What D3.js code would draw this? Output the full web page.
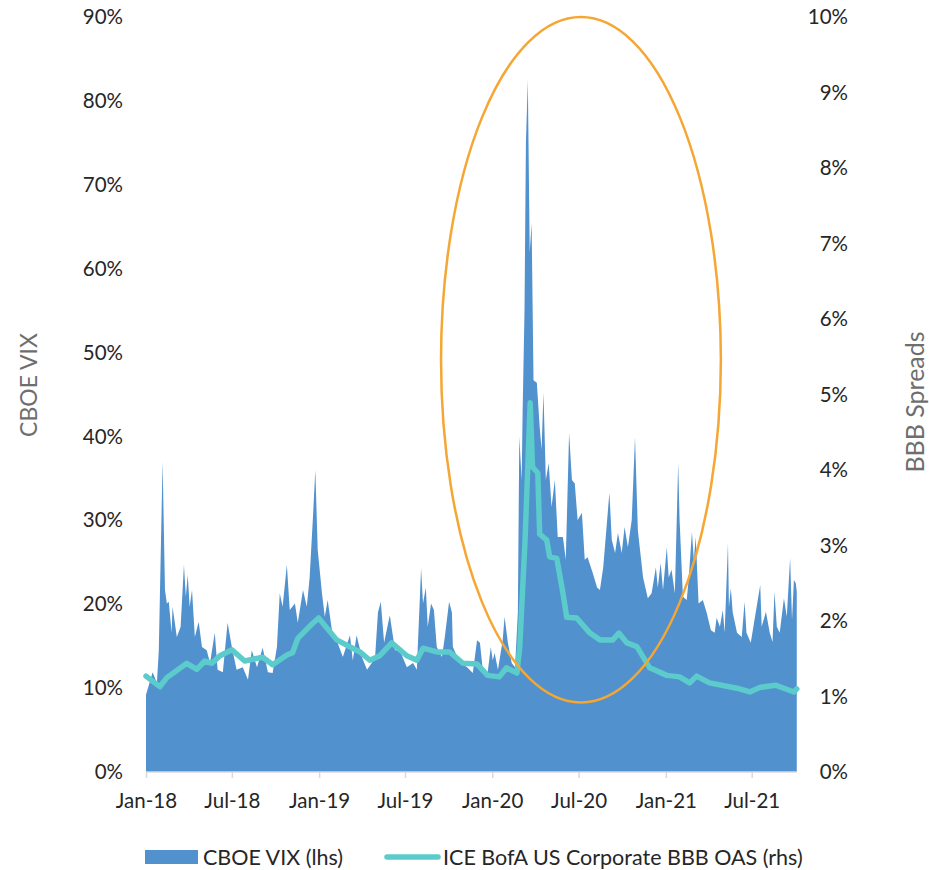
<!DOCTYPE html>
<html>
<head>
<meta charset="utf-8">
<script src="https://cdn.jsdelivr.net/npm/d3@7"></script>
<style>
  html, body { margin: 0; padding: 0; background: #fff; }
  svg text { font-family: Lato, "Open Sans", sans-serif; }
</style>
</head>
<body>
<svg id="chart" width="929" height="870"></svg>
<script>
// ---- Data ----
const vixDates = [
 "2018-01-01","2018-01-15","2018-01-24","2018-01-28","2018-02-05","2018-02-10","2018-02-14","2018-02-18","2018-02-24","2018-02-26",
 "2018-03-07","2018-03-15","2018-03-22","2018-03-26","2018-03-30","2018-04-03","2018-04-08","2018-04-14","2018-04-22","2018-04-29",
 "2018-05-09","2018-05-16","2018-05-26","2018-06-01","2018-06-12","2018-06-22","2018-07-01","2018-07-11","2018-07-24","2018-08-04",
 "2018-08-12","2018-08-23","2018-09-04","2018-09-15","2018-09-25","2018-10-04","2018-10-10","2018-10-16","2018-10-25","2018-10-31",
 "2018-11-11","2018-11-17","2018-11-28","2018-12-06","2018-12-12","2018-12-19","2018-12-24","2018-12-29",
 "2019-01-07","2019-01-13","2019-01-19","2019-01-28","2019-02-07","2019-02-20","2019-03-07","2019-03-13","2019-03-21","2019-04-01",
 "2019-04-12","2019-04-22","2019-04-29","2019-05-05","2019-05-11","2019-05-18","2019-05-30","2019-06-10","2019-06-20","2019-07-05",
 "2019-07-18","2019-07-26","2019-07-28","2019-08-04","2019-08-08","2019-08-14","2019-08-18","2019-08-25","2019-08-31","2019-09-06",
 "2019-09-17","2019-09-23","2019-10-02","2019-10-08","2019-10-10","2019-10-25","2019-11-09","2019-11-21","2019-11-30","2019-12-06",
 "2019-12-12","2019-12-21","2019-12-29",
 "2020-01-02","2020-01-06","2020-01-13","2020-01-23","2020-01-27","2020-02-03","2020-02-11","2020-02-18","2020-02-24","2020-02-27",
 "2020-03-03","2020-03-05","2020-03-09","2020-03-12","2020-03-16","2020-03-20","2020-03-24","2020-03-28","2020-04-04","2020-04-10",
 "2020-04-14","2020-04-18","2020-04-23","2020-04-29","2020-05-05","2020-05-12","2020-05-18","2020-05-29","2020-06-04","2020-06-11",
 "2020-06-17","2020-06-23","2020-06-29","2020-07-08","2020-07-14","2020-07-20","2020-07-31","2020-08-09","2020-08-15","2020-08-22",
 "2020-09-04","2020-09-09","2020-09-16","2020-09-22","2020-09-30","2020-10-06","2020-10-13","2020-10-21","2020-10-28","2020-11-03",
 "2020-11-14","2020-11-24","2020-12-02","2020-12-11","2020-12-15","2020-12-21","2020-12-26",
 "2021-01-03","2021-01-07","2021-01-13","2021-01-20","2021-01-27","2021-01-30","2021-02-06","2021-02-14","2021-02-18","2021-02-25",
 "2021-03-01","2021-03-05","2021-03-11","2021-03-20","2021-03-28","2021-04-06","2021-04-14","2021-04-18","2021-04-25","2021-05-01",
 "2021-05-05","2021-05-12","2021-05-14","2021-05-18","2021-05-22","2021-05-31","2021-06-10","2021-06-16","2021-06-20","2021-06-29",
 "2021-07-08","2021-07-19","2021-07-22","2021-07-31","2021-08-08","2021-08-14","2021-08-18","2021-08-23","2021-08-29","2021-09-07",
 "2021-09-13","2021-09-20","2021-09-24","2021-09-28","2021-10-02","2021-10-04"
];
const vixValues = [
 9.2,11.9,10.6,14.5,37.0,21.7,20.1,20.3,16.6,19.7,
 16.1,17.3,24.7,20.9,23.5,19.7,21.7,16.1,17.9,14.9,
 14.5,13.0,16.6,12.2,11.9,17.8,14.9,12.2,12.5,11.0,
 14.5,12.5,14.8,11.9,11.8,14.9,21.3,19.7,24.7,19.3,
 20.1,17.8,21.7,19.7,23.2,30.4,36.0,26.5,
 21.3,18.5,20.5,16.9,15.7,13.7,16.3,13.3,16.3,13.7,
 12.2,13.0,13.7,19.0,20.3,15.4,18.7,14.5,14.5,12.5,
 13.0,12.2,14.9,24.3,20.1,22.0,17.3,20.1,19.3,14.9,
 13.7,16.1,20.3,19.0,14.9,13.0,12.5,11.8,15.7,15.4,
 12.2,11.3,14.9,
 13.3,14.2,12.2,15.7,18.5,15.4,13.0,12.5,19.0,40.0,
 34.8,42.8,55.0,75.0,82.5,61.9,65.4,46.7,46.4,41.1,
 38.4,45.2,34.8,36.8,31.6,34.8,28.0,28.0,25.3,40.4,
 34.8,34.4,30.0,30.9,25.3,25.6,23.7,22.0,21.7,24.4,
 33.3,27.7,26.1,28.5,26.1,29.2,26.8,30.0,39.9,28.8,
 23.2,20.7,21.3,24.4,22.0,24.9,21.7,
 26.8,23.2,24.1,21.3,36.8,30.0,20.9,20.5,22.9,28.6,
 25.3,28.0,20.1,20.5,19.0,16.9,16.6,18.4,17.3,19.3,
 16.6,27.3,19.7,21.9,19.0,16.6,16.1,20.3,16.6,15.4,
 18.5,22.3,17.3,19.1,16.6,15.5,21.5,17.3,16.6,20.7,
 18.5,25.5,18.1,22.9,22.5,21.5
];
const bbbDates = [
 "2018-01-01","2018-01-30","2018-02-14","2018-03-28","2018-04-18","2018-05-05","2018-05-20","2018-06-06","2018-07-01","2018-07-28",
 "2018-09-04","2018-09-25","2018-10-25","2018-11-06","2018-11-17","2018-12-17","2018-12-31",
 "2019-02-07","2019-03-28","2019-04-18","2019-05-09","2019-06-03","2019-07-05","2019-07-26","2019-08-08","2019-09-06","2019-10-03",
 "2019-10-31","2019-11-30","2019-12-22",
 "2020-01-16","2020-01-31","2020-02-22","2020-02-28","2020-03-10","2020-03-21","2020-03-26","2020-04-06","2020-04-10","2020-04-25",
 "2020-05-01","2020-05-16","2020-05-29","2020-06-06","2020-06-27","2020-07-25","2020-08-15","2020-09-11","2020-09-24","2020-10-11",
 "2020-11-01","2020-11-28",
 "2021-01-03","2021-01-30","2021-02-20","2021-03-07","2021-04-03","2021-05-31","2021-06-27","2021-07-18","2021-08-20","2021-09-28",
 "2021-10-04"
];
const bbbValues = [
 1.27,1.13,1.25,1.44,1.36,1.47,1.44,1.54,1.62,1.47,
 1.52,1.42,1.55,1.58,1.77,1.96,2.04,
 1.75,1.59,1.48,1.54,1.71,1.54,1.48,1.64,1.59,1.59,
 1.44,1.43,1.28,
 1.26,1.38,1.31,1.66,3.05,4.89,4.04,3.96,3.15,3.07,
 2.85,2.83,2.37,2.05,2.04,1.84,1.75,1.75,1.84,1.71,
 1.66,1.38,
 1.28,1.26,1.18,1.27,1.18,1.11,1.06,1.12,1.15,1.06,
 1.10
];
const xTickDates = ["2018-01-01","2018-07-01","2019-01-01","2019-07-01","2020-01-01","2020-07-01","2021-01-01","2021-07-01"];
const leftTicks = [0,10,20,30,40,50,60,70,80,90];
const rightTicks = [0,1,2,3,4,5,6,7,8,9,10];
const seriesNames = ["CBOE VIX (lhs)", "ICE BofA US Corporate BBB OAS (rhs)"];
const axisTitles = ["CBOE VIX", "BBB Spreads"];
const highlightWindow = ["2019-09-15", "2021-04-27"]; // horizontal extent of the orange ellipse

// ---- Setup ----
const parse = d3.timeParse("%Y-%m-%d");
const vix = vixDates.map((d, i) => ({ date: parse(d), v: vixValues[i] }));
const bbb = bbbDates.map((d, i) => ({ date: parse(d), v: bbbValues[i] }));

const svg = d3.select("#chart");
const plot = { left: 146, right: 751.7, top: 17, bottom: 772 };
const FONT = "Lato, sans-serif";

const x = d3.scaleTime()
  .domain([parse("2018-01-01"), parse("2021-07-01")])
  .range([plot.left, plot.right]);
const yL = d3.scaleLinear().domain([0, 90]).range([plot.bottom, plot.top]);
const yR = d3.scaleLinear().domain([0, 10]).range([plot.bottom, plot.top]);

// Area
const area = d3.area()
  .x(d => x(d.date)).y0(yL(0)).y1(d => yL(d.v))
  .curve(d3.curveLinear);
svg.append("path").datum(vix)
  .attr("d", area)
  .attr("fill", "#5191CD");

// X axis
const xAxis = d3.axisBottom(x)
  .tickValues(xTickDates.map(parse))
  .tickFormat(d3.timeFormat("%b-%y"))
  .tickSize(6).tickSizeOuter(0).tickPadding(15);
const gx = svg.append("g").attr("transform", `translate(0,${plot.bottom})`).call(xAxis);
gx.select(".domain").attr("stroke", "#d9d9d9").attr("stroke-width", 1.5)
  .attr("d", `M${plot.left},0H${x(vix[vix.length-1].date)}`);
gx.selectAll(".tick line").attr("stroke", "#d9d9d9").attr("stroke-width", 1.5);
gx.selectAll(".tick text").attr("font-size", 20.5).attr("fill", "#262626")
  .style("font-family", FONT);

// Left axis
const gl = svg.append("g").attr("transform", `translate(${plot.left},0)`)
  .call(d3.axisLeft(yL).tickValues(leftTicks).tickFormat(d => d + "%").tickSize(0).tickPadding(23));
gl.select(".domain").remove();
gl.selectAll(".tick text").attr("font-size", 20.5).attr("fill", "#262626").style("font-family", FONT);

// Right axis (labels right-aligned at x≈848)
const gr = svg.append("g").attr("transform", `translate(848,0)`)
  .call(d3.axisRight(yR).tickValues(rightTicks).tickFormat(d => d + "%").tickSize(0).tickPadding(0));
gr.select(".domain").remove();
gr.selectAll(".tick text").attr("text-anchor", "end").attr("x", 0)
  .attr("font-size", 20.5).attr("fill", "#262626").style("font-family", FONT);

// BBB line
const line = d3.line().x(d => x(d.date)).y(d => yR(d.v)).curve(d3.curveLinear);
svg.append("path").datum(bbb)
  .attr("d", line)
  .attr("fill", "none")
  .attr("stroke", "#5BCBCB")
  .attr("stroke-width", 5.5)
  .attr("stroke-linejoin", "round")
  .attr("stroke-linecap", "round");

// Highlight ellipse around the 2020 episode
const hx0 = x(parse(highlightWindow[0])), hx1 = x(parse(highlightWindow[1]));
svg.append("ellipse")
  .attr("cx", (hx0 + hx1) / 2)
  .attr("cy", (yL(90) + yR(0.92)) / 2)
  .attr("rx", (hx1 - hx0) / 2)
  .attr("ry", (yR(0.92) - yL(90)) / 2)
  .attr("fill", "none")
  .attr("stroke", "#F5A633")
  .attr("stroke-width", 2.5);

// Axis titles
svg.append("text")
  .attr("transform", `translate(37,385) rotate(-90)`)
  .attr("text-anchor", "middle")
  .attr("font-size", 23).attr("fill", "#6e6e6e")
  .text(axisTitles[0]);
svg.append("text")
  .attr("transform", `translate(924,402) rotate(-90)`)
  .attr("text-anchor", "middle")
  .attr("font-size", 25).attr("fill", "#6e6e6e")
  .text(axisTitles[1]);

// Legend
const lg = svg.append("g").attr("transform", "translate(0,857)");
lg.append("rect").attr("x", 145).attr("y", -7).attr("width", 53).attr("height", 14).attr("fill", "#5191CD");
lg.append("text").attr("x", 203).attr("y", 0).attr("dy", "0.35em").attr("font-size", 21.5).attr("fill", "#262626").text(seriesNames[0]);
lg.append("line").attr("x1", 387).attr("x2", 438).attr("y1", 0).attr("y2", 0)
  .attr("stroke", "#5BCBCB").attr("stroke-width", 5.5).attr("stroke-linecap", "round");
lg.append("text").attr("x", 443).attr("y", 0).attr("dy", "0.35em").attr("font-size", 21.5).attr("fill", "#262626").text(seriesNames[1]);
</script>
</body>
</html>
